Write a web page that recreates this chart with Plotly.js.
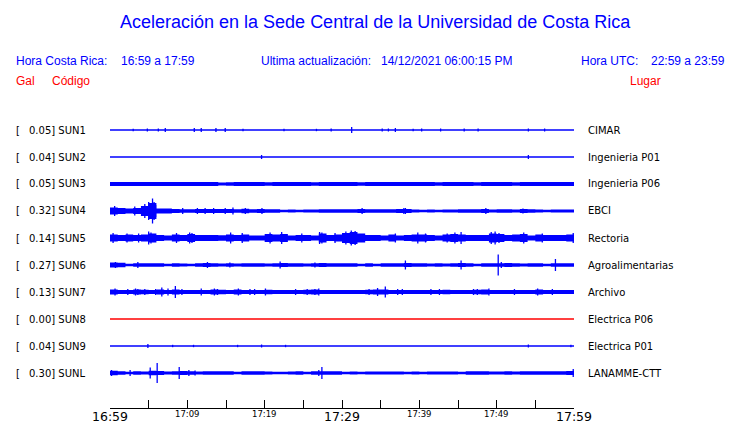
<!DOCTYPE html>
<html><head><meta charset="utf-8">
<script src="https://cdn.plot.ly/plotly-3.0.1.min.js"></script>
<style>html,body{margin:0;padding:0;background:#fff}#chart{width:740px;height:423px}</style>
</head><body><div id="chart"></div>
<script>
// ---------------- DATA ----------------
const stations = ['SUN1','SUN2','SUN3','SUN4','SUN5','SUN6','SUN7','SUN8','SUN9','SUNL'];
const galValues = ['0.05','0.04','0.05','0.32','0.14','0.27','0.13','0.00','0.04','0.30'];
const places = ['CIMAR','Ingenieria P01','Ingenieria P06','EBCI','Rectoria','Agroalimentarias','Archivo','Electrica P06','Electrica P01','LANAMME-CTT'];

// time axis: minutes after 16:59
const tickMinutes = [0,5,10,15,20,25,30,35,40,45,50,55,60];
const labelMinutes = [0,10,20,30,40,50,60];
const labelTexts = ['16:59','17:09','17:19','17:29','17:39','17:49','17:59'];
const majorLabels = ['16:59','17:29','17:59'];

// envelope half-amplitude per minute (display units)
const env_SUN3 = [2,2,2,2,2,2,2,2,2,2, 2,2,2,2,1.6,1.8,2,2,2,2, 1.8,2,2,2,2,2,1.8,2,2,2, 2,2,1.8,2,2,2,2,2,2,2, 2,2,1.8,2,2,2,2,1.8,2,2, 2,2,1.8,2,2,2,2,2,2,2];
const env_SUN4 = [3.5,3,2.5,3,5,8,2.5,2.5,2,1.8, 1.8,2,2,2,2,2,1.8,2.2,1.8,2, 1.8,1.8,1.3,1.5,1.3,1.5,1.5,1.8,1.8,1.8, 1.8,1.8,2,1.8,1.8,1.8,1.8,2,2,1.5, 1.3,1.5,1.3,1.5,1.5,1.8,1.8,1.8,2,1.5, 1.8,1.8,1.5,2,1.8,1.5,1.3,1.5,1.5,1.5];
const env_SUN5 = [3.5,3,3.5,3,3.5,4.5,3,2.5,3.5,3, 4,3,3,3,2.8,3.5,3,3.5,2.5,2.5, 4,3.5,4,2.5,3,3,2.5,4.5,3,3.5, 5,6,4.5,3,3,2.5,3.5,2.5,3,3.5, 3.5,3,2.5,3.5,4,3.5,3,3,3,4.5, 4,3,3.5,4,2.5,3.5,3,3,3,3.5];
const env_SUN6 = [2.5,2.2,1.2,1.8,1.8,1.8,1.8,1.2,1.8,1.5, 1.2,1.8,2,1.8,1.5,1.8,1.5,1.8,1.8,1.8, 1.5,1.8,2,1.8,1.8,1.5,1.8,2,1.8,1.8, 1.8,1.8,1.2,1.8,1.2,1.8,1.8,1.8,2,1.8, 1.8,1.5,1.8,1.5,1.8,2,1.8,1.2,1.8,1.8, 1.8,2,1.8,1.5,1.8,1.8,1.2,1.8,1.8,1.8];
const env_SUN7 = [2.5,2,2,2.5,2.2,2,2.5,2,2.5,2, 2,2,2,2.5,2.2,2,2.5,2,2,2, 2.2,2,2,2,2,2.2,2.5,2,2,2, 2,2,2,2.2,2.5,2.5,2,2,2,2, 2,2,2,2.2,2,2,2,2.2,2.5,2, 2,2,2,2,2,2.5,2,2,2,2];
const env_SUNL = [2.2,1.8,1.2,1.8,1.5,2.2,2,1.5,1.8,2, 1.8,1.5,1.8,1.8,1.8,1.8,1.2,1.8,1.8,1.8, 1.5,1.2,1.2,1.5,1.8,1.2,1.8,1.8,1.8,1.8, 1.2,1.5,1.2,1.5,1.5,1.5,1.5,1.5,1.2,1.5, 1.2,1.5,1.5,1.5,1.5,1.2,1.8,1.8,1.8,1.5, 1.5,1.8,1.5,1.8,1.8,1.8,1.8,1.8,1.8,2];

// spikes: time (minutes) and half-amplitude
const spkT_SUN1 = [3.0,4.83,6.25,7.15,10.9,11.8,13.7,14.9,17.2,22.5,26.7,28.6,31.25,35.2,36.0,36.9,39.2,40.3,42.75,45.8,47.6,54.1,56.2];
const spkA_SUN1 = [1.2,1.5,1.5,2,2,2,2,2,1.2,1.2,1.2,1.5,3,1.5,1.5,2,1.2,1.5,1.5,1.5,1.5,1.5,1.5];
const spkT_SUN2 = [19.6,54.1];
const spkA_SUN2 = [2,2];
const spkT_SUN3 = [];
const spkA_SUN3 = [];
const spkT_SUN4 = [0.6,3.2,4.5,5.0,5.5,5.7,5.9,9.4,11.3,12.3,13.4,14.9,15.9,17.5,19.65,32.6,38.0,38.2,48.6,53.4];
const spkA_SUN4 = [5,4.5,7,9,12.5,9,6,3,3,3,3,3,3.5,3,3,3,3,3,3,2.5];
const spkT_SUN5 = [0.4,2.2,3.7,5.0,5.3,8.6,10.3,10.6,15.6,17.1,20.7,22.2,24.8,27.1,27.4,29.1,30.5,31.2,31.7,36.9,39.8,40.8,43.6,44.6,45.4,49.3,49.8,50.3,53.5,55.9,59.9];
const spkA_SUN5 = [5,4.5,4.5,6.5,5.5,5,5.5,5,5.5,5,5.5,6,4.5,6,5.5,5,6.5,7.5,7,4.5,5.5,4.5,4.5,5.5,6,6,6.5,5,5.5,4.5,5];
const spkT_SUN6 = [0.7,3.6,12.6,15.5,22.0,26.5,38.2,45.4,50.2,50.6,57.6];
const spkA_SUN6 = [3,3,3,2.5,3.5,2.5,4.5,4.5,10.5,3,6];
const spkT_SUN7 = [0.65,2.3,3.3,3.6,4.5,5.9,6.7,7.5,8.45,9.3,11.8,13.5,13.9,16.6,18.1,18.7,20.1,24.0,25.5,26.5,27.0,33.5,34.6,35.6,37.2,37.8,41.5,42.6,47.0,47.5,49.0,52.3,55.3,57.2];
const spkA_SUN7 = [3.5,3,3.5,3,3,3,4.5,3.5,6,3,3.5,3.5,3,3.5,3,3,3.5,3,3,3,3.5,3,4,5.5,3,3,3,3,3,3,3.5,3,3.5,3];
const spkT_SUN8 = [];
const spkA_SUN8 = [];
const spkT_SUN9 = [4.9,8.1,10.8,16.5,19.6,22.7,54.1,59.6];
const spkA_SUN9 = [2,1.2,1.2,1.2,1.5,1.2,1.5,1.2];
const spkT_SUNL = [0.2,2.6,5.2,6.1,8.95,10.2,11.0,27.0,27.4,59.9];
const spkA_SUNL = [3,3,5.5,10,6,3,2.5,3,6,4];

// ---------------- BUILD ----------------
const envs = {SUN3:env_SUN3,SUN4:env_SUN4,SUN5:env_SUN5,SUN6:env_SUN6,SUN7:env_SUN7,SUNL:env_SUNL};
const spkT = {SUN1:spkT_SUN1,SUN2:spkT_SUN2,SUN3:spkT_SUN3,SUN4:spkT_SUN4,SUN5:spkT_SUN5,SUN6:spkT_SUN6,SUN7:spkT_SUN7,SUN8:spkT_SUN8,SUN9:spkT_SUN9,SUNL:spkT_SUNL};
const spkA = {SUN1:spkA_SUN1,SUN2:spkA_SUN2,SUN3:spkA_SUN3,SUN4:spkA_SUN4,SUN5:spkA_SUN5,SUN6:spkA_SUN6,SUN7:spkA_SUN7,SUN8:spkA_SUN8,SUN9:spkA_SUN9,SUNL:spkA_SUNL};

const W = 740, H = 423;
const ROW = 27;          // display units between rows
const BLUE = '#0000ff', RED = '#ff0000';
const traces = [];

stations.forEach((s, i) => {
  const c = -ROW * i;
  const col = parseFloat(galValues[i]) === 0 ? RED : BLUE;
  const e = envs[s];
  if (e) {
    const xs = e.map((_, k) => k).concat([e.length]);
    const ee = e.concat([e[e.length - 1]]);
    traces.push({x: xs, y: ee.map(v => c - v), mode: 'lines', line: {width: 0, shape: 'hv', color: col}, hoverinfo: 'skip', showlegend: false});
    traces.push({x: xs, y: ee.map(v => c + v), mode: 'lines', line: {width: 0, shape: 'hv', color: col}, fill: 'tonexty', fillcolor: col, hoverinfo: 'skip', showlegend: false});
  }
  traces.push({x: [0, 60], y: [c, c], mode: 'lines', line: {color: col, width: 1.3}, hoverinfo: 'skip', showlegend: false});
  const sx = [], sy = [];
  spkT[s].forEach((t, k) => { sx.push(t, t, null); sy.push(c - spkA[s][k], c + spkA[s][k], null); });
  if (sx.length) traces.push({x: sx, y: sy, mode: 'lines', line: {color: col, width: 1.3}, hoverinfo: 'skip', showlegend: false});
});

const px = x => x / W, py = y => 1 - y / H;
const ann = [];
function txt(text, x, y, opts) {
  ann.push(Object.assign({text: text, xref: 'paper', yref: 'paper', x: px(x), y: py(y), showarrow: false,
    xanchor: 'left', yanchor: 'middle', font: {family: 'Liberation Sans, Arial, sans-serif', size: 12, color: BLUE}}, opts || {}));
}
const SANS = 'Liberation Sans, Arial, sans-serif';
const DJ = 'DejaVu Sans, sans-serif';
txt('Aceleración en la Sede Central de la Universidad de Costa Rica', 375, 22, {xanchor: 'center', font: {family: SANS, size: 18, color: BLUE}});
txt('Hora Costa Rica:', 14, 61);
txt('16:59 a 17:59', 119, 61);
txt('Ultima actualización:', 259, 61);
txt('14/12/2021 06:00:15 PM', 379, 61);
txt('Hora UTC:', 579, 61);
txt('22:59 a 23:59', 649, 61);
txt('Gal', 14, 81, {font: {family: SANS, size: 12, color: RED}});
txt('Código', 50, 81, {font: {family: SANS, size: 12, color: RED}});
txt('Lugar', 628, 81, {font: {family: SANS, size: 12, color: RED}});

stations.forEach((s, i) => {
  const y = 130 + ROW * i;
  txt('[', 14, y, {font: {family: DJ, size: 10, color: '#000'}});
  txt(galValues[i] + '] ' + s, 26.5, y, {font: {family: DJ, size: 10, color: '#000'}});
  txt(places[i], 586, y, {font: {family: DJ, size: 10, color: '#000'}});
});

labelMinutes.forEach((m, k) => {
  const major = majorLabels.indexOf(labelTexts[k]) >= 0;
  ann.push({text: labelTexts[k], xref: 'x', yref: 'paper', x: m, y: py(major ? 416.5 : 414), showarrow: false,
    xanchor: 'center', yanchor: 'middle', font: {family: DJ, size: major ? 12.5 : 8.5, color: '#000'}});
});

const layout = {
  width: W, height: H, margin: {l: 0, r: 0, t: 0, b: 0}, paper_bgcolor: '#fff', plot_bgcolor: '#fff',
  showlegend: false,
  xaxis: {domain: [110 / W, 574 / W], range: [0, 60], showgrid: false, zeroline: false, showline: true,
    linecolor: '#000', linewidth: 1, ticks: 'inside', ticklen: 8, tickwidth: 1, tickcolor: '#000',
    tickmode: 'array', tickvals: tickMinutes, showticklabels: false, fixedrange: true},
  yaxis: {domain: [15 / H, 308 / H], range: [-278, 15], visible: false, fixedrange: true},
  annotations: ann
};
Plotly.newPlot('chart', traces, layout, {staticPlot: true, displayModeBar: false});
</script></body></html>
